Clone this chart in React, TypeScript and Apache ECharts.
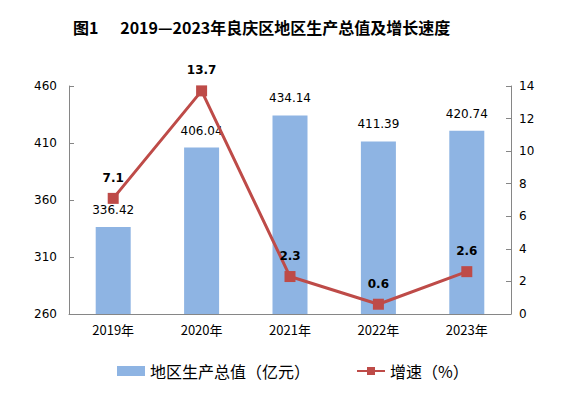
import React, { useEffect, useRef } from "react";
import * as echarts from "echarts";

const categories = ["2019年", "2020年", "2021年", "2022年", "2023年"];
const gdpValues = [336.42, 406.04, 434.14, 411.39, 420.74];
const growthValues = [7.1, 13.7, 2.3, 0.6, 2.6];
const titleText = "图1      2019—2023年良庆区地区生产总值及增长速度";
const barName = "地区生产总值（亿元）";
const lineName = "增速（%）";

const numFont = "DejaVu Sans";
const cjkFont = "'Noto Sans CJK SC', 'DejaVu Sans'";

export default function App() {
  const ref = useRef<HTMLDivElement>(null);
  useEffect(() => {
    if (!ref.current) return;
    const chart = echarts.init(ref.current, null, { renderer: "svg" });
    chart.setOption({
      animation: false,
      backgroundColor: "#ffffff",
      title: {
        text: titleText,
        left: 68,
        top: 14,
        textStyle: { fontFamily: cjkFont, fontSize: 16, fontWeight: "bold", color: "#000" },
      },
      legend: {
        left: 112,
        top: 358,
        itemWidth: 28,
        itemHeight: 10,
        itemGap: 46,
        textStyle: { fontFamily: cjkFont, fontSize: 16, color: "#000" },
        data: [
          { name: barName, icon: "rect", itemStyle: { color: "#8EB4E3" } },
          { name: lineName },
        ],
      },
      grid: { left: 69, right: 74, top: 86, bottom: 79, containLabel: false },
      xAxis: {
        type: "category",
        data: categories,
        axisLine: { lineStyle: { color: "#868686", width: 1 } },
        axisTick: { show: false },
        axisLabel: { fontFamily: cjkFont, fontSize: 13, color: "#000", margin: 9 },
      },
      yAxis: [
        {
          type: "value",
          min: 260,
          max: 460,
          interval: 50,
          axisLine: { show: true, lineStyle: { color: "#868686" } },
          axisTick: { show: true, inside: true, length: 5, lineStyle: { color: "#868686" } },
          splitLine: { show: false },
          axisLabel: { fontFamily: numFont, fontSize: 12, color: "#000", margin: 12 },
        },
        {
          type: "value",
          min: 0,
          max: 14,
          interval: 2,
          position: "right",
          axisLine: { show: true, lineStyle: { color: "#868686" } },
          axisTick: { show: true, inside: true, length: 5, lineStyle: { color: "#868686" } },
          splitLine: { show: false },
          axisLabel: { fontFamily: numFont, fontSize: 12, color: "#000", margin: 8 },
        },
      ],
      series: [
        {
          name: barName,
          type: "bar",
          data: gdpValues,
          barWidth: 35,
          itemStyle: { color: "#8EB4E3" },
          label: {
            show: true,
            position: "top",
            distance: 11,
            fontFamily: numFont,
            fontSize: 12,
            color: "#000",
          },
        },
        {
          name: lineName,
          type: "line",
          yAxisIndex: 1,
          data: growthValues,
          symbol: "rect",
          symbolSize: 11,
          lineStyle: { color: "#BE4B48", width: 3 },
          itemStyle: { color: "#BE4B48" },
          label: {
            show: true,
            position: "top",
            distance: 9,
            fontFamily: numFont,
            fontSize: 12,
            fontWeight: "bold",
            color: "#000",
          },
        },
      ],
    });
    return () => chart.dispose();
  }, []);
  return (
    <div
      ref={ref}
      style={{ position: "absolute", left: 0, top: 0, width: 585, height: 393 }}
    />
  );
}
